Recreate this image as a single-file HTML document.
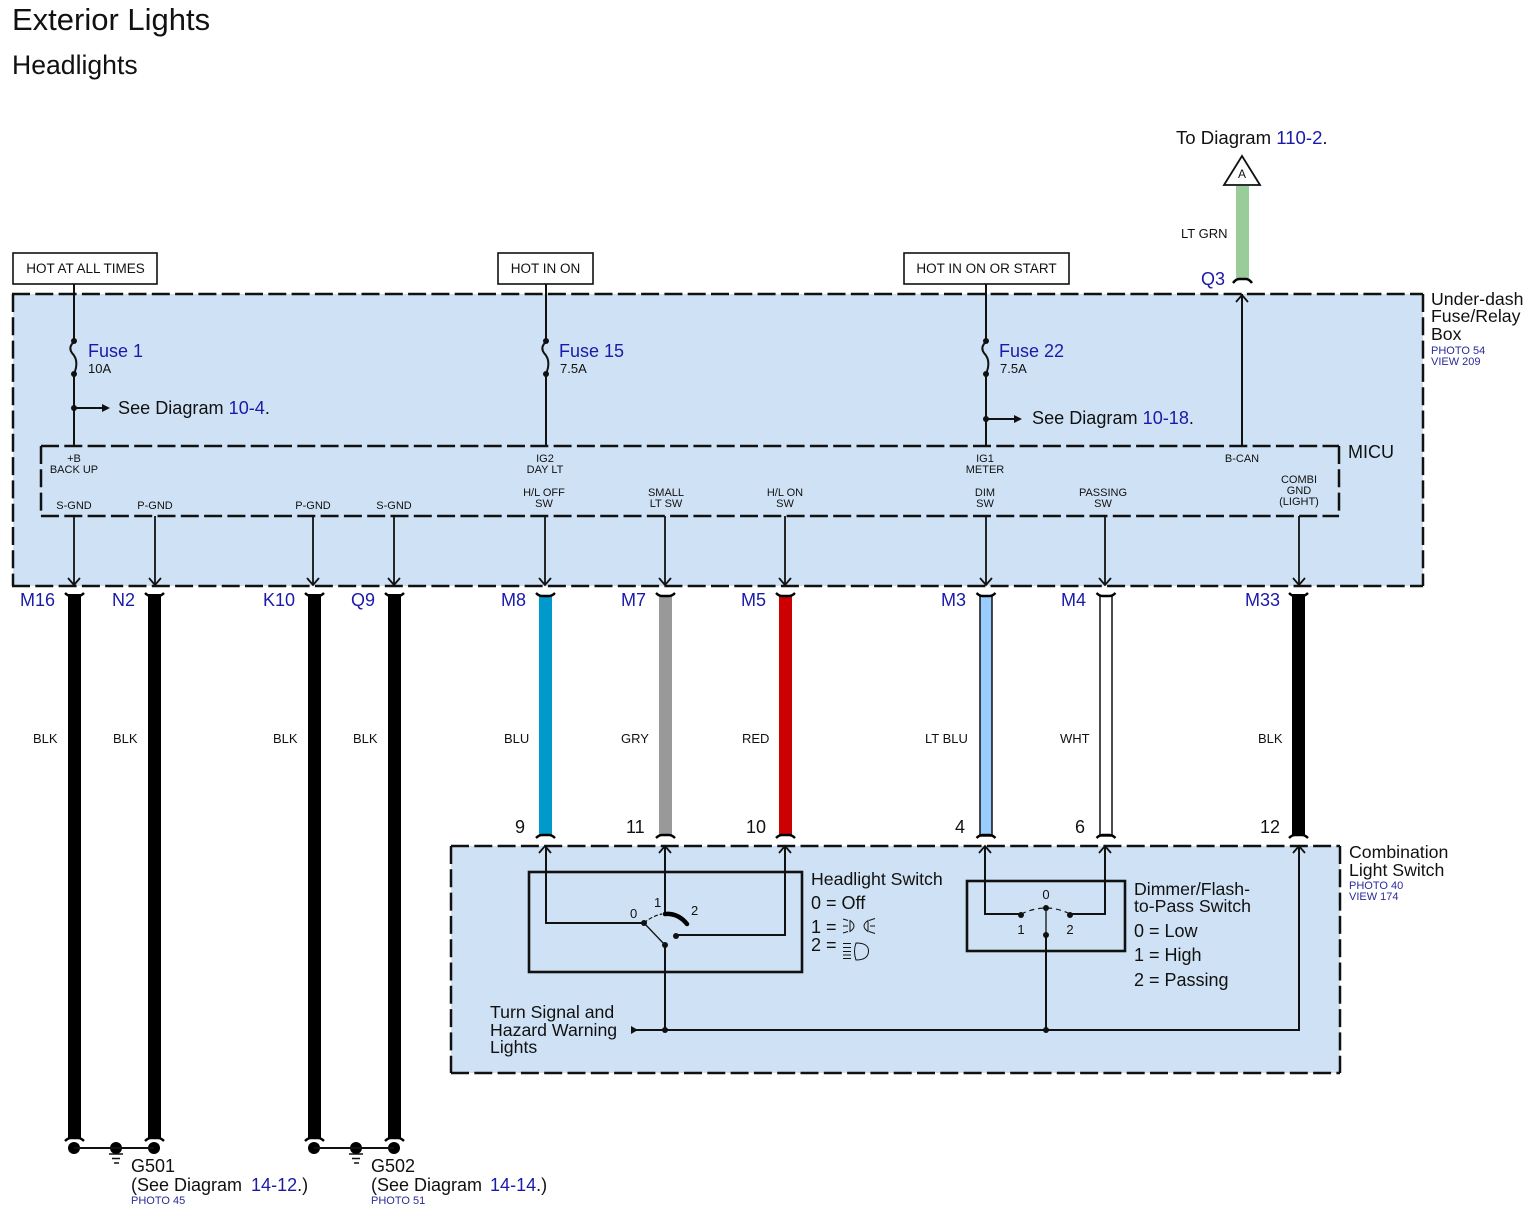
<!DOCTYPE html>
<html><head><meta charset="utf-8"><style>
html,body{margin:0;padding:0;background:#fff}
svg{display:block}
text{font-family:"Liberation Sans",Arial,sans-serif;fill:#111}
.b,.b text{fill:#1a1aa8}
.s11{font-size:11px}.s13{font-size:13px}.s18{font-size:18px}.s177{font-size:17.7px}
.ph{font-size:11px;fill:#2a2a9a}
.l{stroke:#111;stroke-width:2;fill:none}
.d{stroke:#111;stroke-width:2.5;fill:none;stroke-dasharray:18 5.3}
.c{stroke:#000;stroke-width:2.4;fill:none}
.a{stroke:#111;stroke-width:1.8;fill:none}
.m{text-anchor:middle}
</style></head><body>
<svg width="1535" height="1223" viewBox="0 0 1535 1223" xmlns="http://www.w3.org/2000/svg">
<rect width="1535" height="1223" fill="#fff"/>
<text x="12" y="30" font-size="31">Exterior Lights</text>
<text x="12" y="74" font-size="26.6">Headlights</text>

<!-- boxes -->
<rect x="13" y="294" width="1410" height="292" fill="#cfe2f5"/>
<rect x="451" y="846" width="889" height="227" fill="#cfe2f5"/>
<path class="d" d="M12 294H1423M12 586H1423M13 294V586M1423 294V586"/>
<path class="d" d="M41 446H1339M41 516H1339M41 446V516M1339 446V516"/>
<path class="d" d="M451 846H1340M451 1073H1340M451 846V1073M1340 846V1073"/>

<!-- HOT boxes -->
<rect x="13" y="253" width="144" height="31" fill="#fff" stroke="#111" stroke-width="1.6"/>
<rect x="498" y="253" width="95" height="31" fill="#fff" stroke="#111" stroke-width="1.6"/>
<rect x="904" y="253" width="165" height="31" fill="#fff" stroke="#111" stroke-width="1.6"/>
<text x="85.500" y="273" class="m" font-size="13.5">HOT AT ALL TIMES</text>
<text x="545.500" y="273" class="m" font-size="13.500">HOT IN ON</text>
<text x="986.500" y="273" class="m" font-size="13.500">HOT IN ON OR START</text>

<!-- top lines / fuses -->
<g class="l">
<path d="M74 284V342M74 374V446M546 284V342M546 374V446M986 284V342M986 374V446"/>
<path d="M1242 294V446"/>
<path d="M74 342C69 346 70 350 72 353C75 356 79 362 74 374M546 342C541 346 542 350 544 353C547 356 551 362 546 374M986 342C981 346 982 350 984 353C987 356 991 362 986 374"/>
<path d="M74 408H102M986 419H1014"/>
</g>
<g fill="#111">
<circle cx="74" cy="341" r="3"/><circle cx="74" cy="374" r="3"/><circle cx="74" cy="408" r="3"/>
<circle cx="546" cy="341" r="3"/><circle cx="546" cy="374" r="3"/>
<circle cx="986" cy="341" r="3"/><circle cx="986" cy="374" r="3"/><circle cx="986" cy="419" r="3"/>
<path d="M102 404l8 4l-8 4zM1014 415l8 4l-8 4z"/>
</g>
<text x="88" y="357" class="s18 b">Fuse 1</text><text x="88" y="373" class="s13">10A</text>
<text x="559" y="357" class="s18 b">Fuse 15</text><text x="560" y="373" class="s13">7.5A</text>
<text x="999" y="357" class="s18 b">Fuse 22</text><text x="1000" y="373" class="s13">7.5A</text>
<text x="118" y="414" font-size="18.1">See Diagram <tspan class="b">10-4</tspan>.</text>
<text x="1032" y="424" font-size="18.1">See Diagram <tspan class="b">10-18</tspan>.</text>

<!-- MICU labels -->
<text x="1348" y="458" class="s18">MICU</text>
<g class="s11 m">
<text x="74" y="462">+B</text><text x="74" y="473">BACK UP</text>
<text x="545" y="462">IG2</text><text x="545" y="473">DAY LT</text>
<text x="985" y="462">IG1</text><text x="985" y="473">METER</text>
<text x="1242" y="462">B-CAN</text>
<text x="74" y="509">S-GND</text><text x="155" y="509">P-GND</text>
<text x="313" y="509">P-GND</text><text x="394" y="509">S-GND</text>
<text x="544" y="496">H/L OFF</text><text x="544" y="507">SW</text>
<text x="666" y="496">SMALL</text><text x="666" y="507">LT SW</text>
<text x="785" y="496">H/L ON</text><text x="785" y="507">SW</text>
<text x="985" y="496">DIM</text><text x="985" y="507">SW</text>
<text x="1103" y="496">PASSING</text><text x="1103" y="507">SW</text>
<text x="1299" y="483">COMBI</text><text x="1299" y="494">GND</text><text x="1299" y="505">(LIGHT)</text>
</g>

<!-- arrows down from MICU -->
<g class="a">
<path d="M74 516V585M155 516V585M313 516V585M394 516V585M545 516V585M665 516V585M785 516V585M986 516V585M1105 516V585M1299 516V585"/>
<path d="M68 578l6 7l6-7M149 578l6 7l6-7M307 578l6 7l6-7M388 578l6 7l6-7M539 578l6 7l6-7M659 578l6 7l6-7M779 578l6 7l6-7M980 578l6 7l6-7M1099 578l6 7l6-7M1293 578l6 7l6-7"/>
<path d="M1236 302l6-7l6 7"/>
</g>

<!-- harness wires -->
<rect x="68" y="594" width="13" height="545" fill="#000"/>
<rect x="148" y="594" width="13" height="545" fill="#000"/>
<rect x="308" y="594" width="13" height="545" fill="#000"/>
<rect x="388" y="594" width="13" height="545" fill="#000"/>
<rect x="539" y="596" width="13" height="240" fill="#0099cc"/>
<rect x="659" y="596" width="13" height="240" fill="#999"/>
<rect x="779" y="596" width="13" height="240" fill="#cc0000"/>
<rect x="980" y="596" width="12" height="240" fill="#99ccff" stroke="#111" stroke-width="1.5"/>
<rect x="1100" y="596" width="12" height="240" fill="#fff" stroke="#111" stroke-width="1.5"/>
<rect x="1292" y="594" width="13" height="242" fill="#000"/>
<rect x="1236" y="186" width="13" height="92" fill="#99cc99"/>

<!-- connector caps: top (ends up) -->
<g class="c">
<path d="M65 593q3 3 6 3h7q3 0 6-3M145 593q3 3 6 3h7q3 0 6-3M305 593q3 3 6 3h7q3 0 6-3M385 593q3 3 6 3h7q3 0 6-3M536 593q3 3 6 3h7q3 0 6-3M656 593q3 3 6 3h7q3 0 6-3M776 593q3 3 6 3h7q3 0 6-3M976.500 593q3 3 6 3h7q3 0 6-3M1096.500 593q3 3 6 3h7q3 0 6-3M1289 593q3 3 6 3h7q3 0 6-3"/>
<path d="M1233 283q3-4 6-4h7q3 0 6 4"/>
<path d="M536 838q3-3 6-3h7q3 0 6 3M656 838q3-3 6-3h7q3 0 6 3M776 838q3-3 6-3h7q3 0 6 3M976.500 838q3-3 6-3h7q3 0 6 3M1096.500 838q3-3 6-3h7q3 0 6 3M1289 838q3-3 6-3h7q3 0 6 3"/>
<path d="M65 1141q3-3 6-3h7q3 0 6 3M145 1141q3-3 6-3h7q3 0 6 3M305 1141q3-3 6-3h7q3 0 6 3M385 1141q3-3 6-3h7q3 0 6 3"/>
</g>

<!-- connector names -->
<g class="s18 b">
<text x="20" y="606">M16</text><text x="112" y="606">N2</text><text x="263" y="606">K10</text><text x="351" y="606">Q9</text>
<text x="501" y="606">M8</text><text x="621" y="606">M7</text><text x="741" y="606">M5</text><text x="941" y="606">M3</text><text x="1061" y="606">M4</text><text x="1245" y="606">M33</text>
<text x="1201" y="285">Q3</text>
</g>
<g class="s13">
<text x="33" y="743">BLK</text><text x="113" y="743">BLK</text><text x="273" y="743">BLK</text><text x="353" y="743">BLK</text>
<text x="504" y="743">BLU</text><text x="621" y="743">GRY</text><text x="742" y="743">RED</text><text x="925" y="743">LT BLU</text><text x="1060" y="743">WHT</text><text x="1258" y="743">BLK</text>
<text x="1181" y="238">LT GRN</text>
</g>
<g class="s18">
<text x="515" y="833">9</text><text x="626" y="833">11</text><text x="746" y="833">10</text><text x="955" y="833">4</text><text x="1075" y="833">6</text><text x="1260" y="833">12</text>
</g>

<!-- A triangle -->
<path d="M1242 156L1260 185H1224Z" fill="#fff" stroke="#111" stroke-width="1.8"/>
<text x="1242" y="178" class="m" font-size="12">A</text>
<text x="1176" y="144" font-size="18.6">To Diagram <tspan class="b">110-2</tspan>.</text>

<text x="1431" y="305" class="s177">Under-dash</text>
<text x="1431" y="322" class="s177">Fuse/Relay</text>
<text x="1431" y="340" class="s177">Box</text>
<text x="1431" y="354" class="ph">PHOTO 54</text>
<text x="1431" y="365" class="ph">VIEW 209</text>

<text x="1349" y="858" class="s177">Combination</text>
<text x="1349" y="876" class="s177">Light Switch</text>
<text x="1349" y="889" class="ph">PHOTO 40</text>
<text x="1349" y="900" class="ph">VIEW 174</text>

<!-- headlight switch -->
<rect x="529" y="872" width="273" height="100" fill="none" stroke="#111" stroke-width="2.600"/>
<g class="l">
<path d="M546 846V923H644"/>
<path d="M665 846V914"/>
<path d="M785 846V935H676"/>
<path d="M665 945V1030"/>
</g>
<path d="M644 923L665 945" stroke="#111" stroke-width="1.300" fill="none"/>
<path d="M644 923Q652 916 662 914" stroke="#111" stroke-width="1.200" fill="none" stroke-dasharray="4 2"/>
<path d="M665 914Q678 913 687 924" stroke="#000" stroke-width="4.500" fill="none" stroke-linecap="round"/>
<g fill="#111"><circle cx="644" cy="923" r="3"/><circle cx="665" cy="945" r="3"/><circle cx="676" cy="936" r="3"/></g>
<text x="630" y="918" class="s13">0</text><text x="654" y="907" class="s13">1</text><text x="691" y="915" class="s13">2</text>
<text x="811" y="885" class="s177">Headlight Switch</text>
<text x="811" y="909" class="s18">0 = Off</text>
<text x="811" y="933" class="s18">1 =</text>
<text x="811" y="951" class="s18">2 =</text>
<g stroke="#111" stroke-width="1" fill="none">
<path d="M843 919l5 1.500M843 926h5M843 933l5-1.500"/>
<path d="M850 920.500q8 5.500 0 11zM868 920.500q-8 5.500 0 11z"/>
<path d="M869 920.500l6-2M870 926h5M869 931.500l6 2"/>
<path d="M843 943.500h8M843 947.500h8M843 951.500h8M843 955h8M843 958.500h8"/>
<path d="M856 943q13 0 12.500 8.500t-12.500 8.500q-3-8.500 0-17z"/>
</g>

<!-- dimmer switch -->
<rect x="967" y="881" width="158" height="70" fill="none" stroke="#111" stroke-width="2.600"/>
<g class="l">
<path d="M985 846V914H1021"/>
<path d="M1105 846V914H1070"/>
<path d="M1046 935V1030"/>
<path d="M633 1030H1299V846"/>
</g>
<path d="M1046 908V935" stroke="#111" stroke-width="1.300"/>
<path d="M1021 914Q1034 908 1046 908Q1058 908 1070 914" stroke="#111" stroke-width="1.200" fill="none" stroke-dasharray="5 4"/>
<g fill="#111"><circle cx="1021" cy="915" r="3"/><circle cx="1070" cy="915" r="3"/><circle cx="1046" cy="908" r="3"/><circle cx="1046" cy="935" r="3"/>
<circle cx="665" cy="1030" r="3"/><circle cx="1046" cy="1030" r="3"/><path d="M631 1026l7 4l-7 4z"/></g>
<text x="1046" y="899" class="s13 m">0</text><text x="1021" y="934" class="s13 m">1</text><text x="1070" y="934" class="s13 m">2</text>
<text x="1134" y="895" class="s177">Dimmer/Flash-</text>
<text x="1134" y="912" class="s177">to-Pass Switch</text>
<text x="1134" y="937" class="s18">0 = Low</text>
<text x="1134" y="961" class="s18">1 = High</text>
<text x="1134" y="986" class="s18">2 = Passing</text>
<g class="a">
<path d="M539 853l6-7l6 7M659 853l6-7l6 7M779 853l6-7l6 7M979 853l6-7l6 7M1099 853l6-7l6 7M1293 853l6-7l6 7"/>
</g>
<text x="490" y="1018" class="s177">Turn Signal and</text>
<text x="490" y="1036" class="s177">Hazard Warning</text>
<text x="490" y="1053" class="s177">Lights</text>

<!-- grounds -->
<g fill="#000"><circle cx="74" cy="1148" r="6"/><circle cx="154" cy="1148" r="6"/><circle cx="116" cy="1148" r="6"/>
<circle cx="314" cy="1148" r="6"/><circle cx="394" cy="1148" r="6"/><circle cx="356" cy="1148" r="6"/></g>
<path d="M74 1148H154M314 1148H394" class="l"/>
<path d="M109 1154h14M112 1158.500h8M114 1163h5M349 1154h14M352 1158.500h8M354 1163h5" stroke="#111" stroke-width="1.500"/>
<text x="131" y="1172" class="s18">G501</text>
<text x="131" y="1191" class="s18">(See Diagram <tspan class="b" dx="4">14-12</tspan>.)</text>
<text x="131" y="1204" class="ph">PHOTO 45</text>
<text x="371" y="1172" class="s18">G502</text>
<text x="371" y="1191" class="s18">(See Diagram <tspan class="b" dx="3">14-14</tspan>.)</text>
<text x="371" y="1204" class="ph">PHOTO 51</text>
</svg>
</body></html>
